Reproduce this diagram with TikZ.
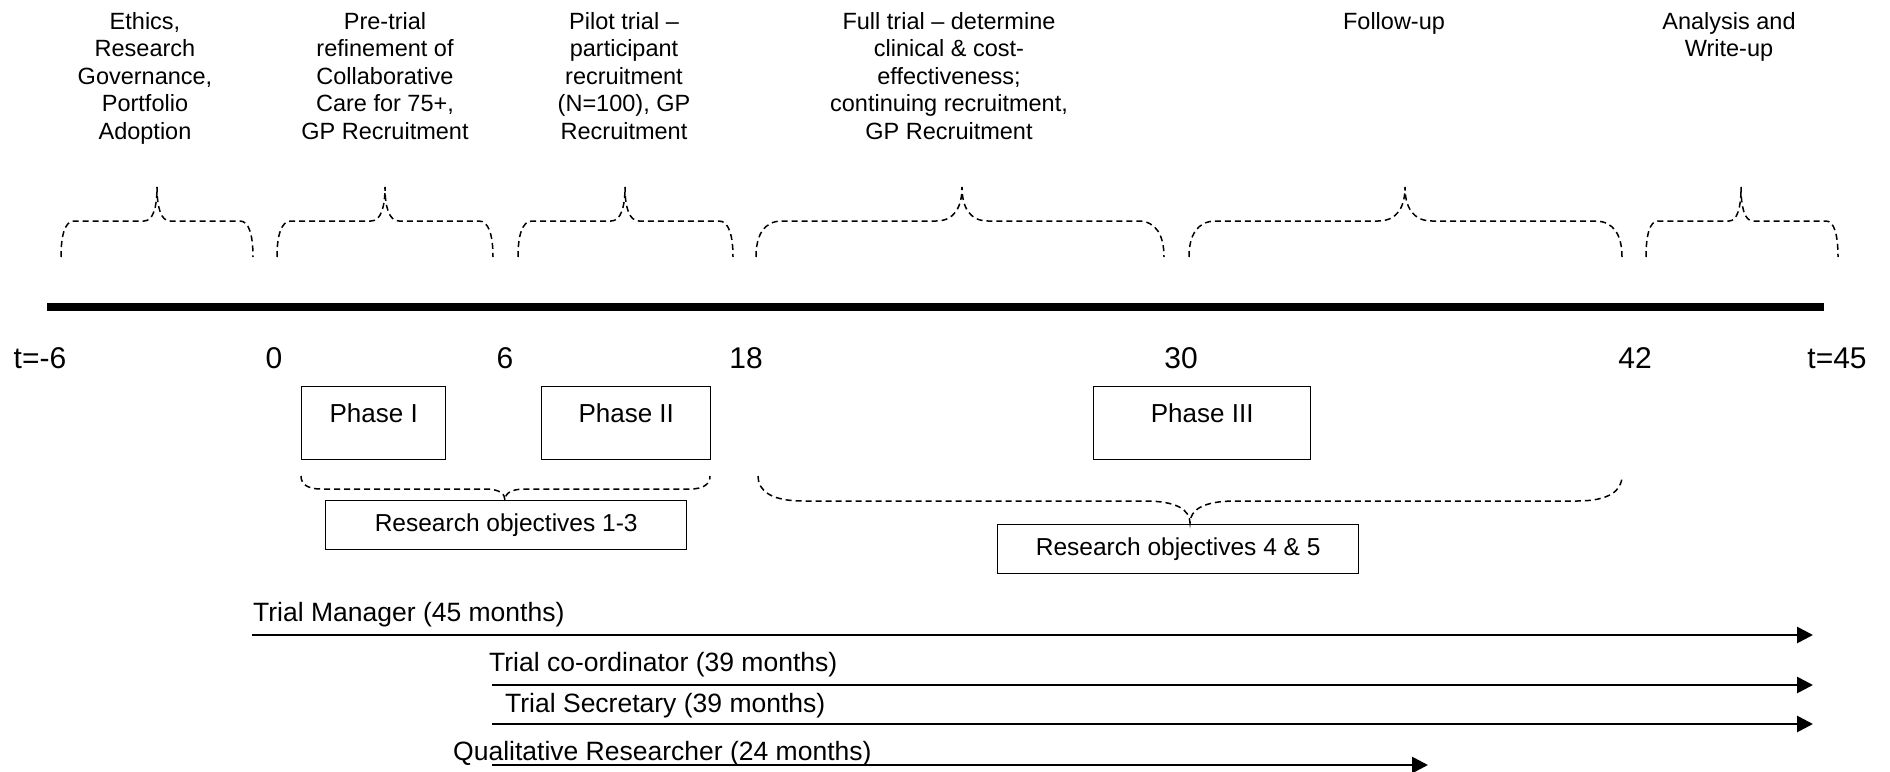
\documentclass[tikz,border=0pt]{standalone}
\usepackage{fontspec}
\setmainfont{Liberation Sans}
\usetikzlibrary{arrows.meta}

% dashed curly brace: left x, tip x, right x, end y, flat y, tip y, curve width
\newcommand{\timebrace}[7]{%
  \draw[bracedash] (#1,#4)
    .. controls (#1,{#5+0.4*(#4-#5)}) and ({#1+0.3*#7},#5) .. ({#1+#7},#5)
    -- ({#2-#7},#5)
    .. controls ({#2-0.3*#7},#5) and (#2,{#5+0.4*(#6-#5)}) .. (#2,#6)
    .. controls (#2,{#5+0.4*(#6-#5)}) and ({#2+0.3*#7},#5) .. ({#2+#7},#5)
    -- ({#3-#7},#5)
    .. controls ({#3-0.3*#7},#5) and (#3,{#5+0.4*(#4-#5)}) .. (#3,#4);}

\begin{document}
\begin{tikzpicture}[x=1pt,y=-1pt,
    bracedash/.style={line width=1.5pt,dash pattern=on 6pt off 4pt},
    toplabel/.style={anchor=north,inner sep=0pt,align=center,
      font=\fontsize{23.5}{27.5}\selectfont},
    ticklabel/.style={anchor=base,inner sep=0pt,font=\fontsize{30}{36}\selectfont},
    phasebox/.style={draw,line width=1.4pt,anchor=north west,inner sep=0pt,
      minimum height=73pt,text height=18pt,text depth=19pt,
      font=\fontsize{26}{30}\selectfont},
    objbox/.style={draw,line width=1.4pt,anchor=north west,inner sep=0pt,
      minimum width=361pt,minimum height=49pt,text height=17pt,text depth=5pt,
      font=\fontsize{24.5}{29}\selectfont},
    stafflabel/.style={anchor=base west,inner sep=0pt,
      font=\fontsize{26.5}{31}\selectfont},
    staffarrow/.style={line width=2.7pt,-{Triangle[length=16pt,width=16pt]}}]
  \useasboundingbox (0,0) rectangle (1890,771);

  % activities above the time line
  \node[toplabel] (ethics) at (145,12)
    {Ethics,\\Research\\Governance,\\Portfolio\\Adoption};
  \node[toplabel] (pretrial) at (385,12)
    {Pre-trial\\refinement of\\Collaborative\\Care for 75+,\\GP Recruitment};
  \node[toplabel] (pilot) at (624,12)
    {Pilot trial –\\participant\\recruitment\\(N=100), GP\\Recruitment};
  \node[toplabel] (fulltrial) at (949,12)
    {Full trial – determine\\clinical \& cost-\\effectiveness;\\continuing recruitment,\\GP Recruitment};
  \node[toplabel] (followup) at (1394,12) {Follow-up};
  \node[toplabel] (analysis) at (1729,12) {Analysis and\\Write-up};

  \timebrace{61}{157}{253}{257}{221}{187}{13}
  \timebrace{277}{385}{493}{257}{221}{187}{14}
  \timebrace{518}{625}{733}{257}{221}{187}{14}
  \timebrace{756}{962}{1164}{257}{221}{187}{26}
  \timebrace{1189}{1405}{1622}{257}{221}{187}{27}
  \timebrace{1646}{1741}{1838}{257}{221}{187}{12}

  % time line
  \draw[line width=8pt] (47,307) -- (1824,307);
  \node[ticklabel] (tm6) at (40,368) {t=-6};
  \node[ticklabel] (t0) at (274,368) {0};
  \node[ticklabel] (t6) at (505,368) {6};
  \node[ticklabel] (t18) at (746,368) {18};
  \node[ticklabel] (t30) at (1181,368) {30};
  \node[ticklabel] (t42) at (1635,368) {42};
  \node[ticklabel] (t45) at (1837,368) {t=45};

  % phases
  \node[phasebox,minimum width=144pt] (phaseI) at (301,386) {Phase I};
  \node[phasebox,minimum width=169pt] (phaseII) at (541,386) {Phase II};
  \node[phasebox,minimum width=217pt] (phaseIII) at (1093,386) {Phase III};

  \timebrace{301}{505}{710}{476}{489}{500}{20}
  \timebrace{758}{1190}{1622}{476}{501}{523}{45}
  \node[objbox] (objA) at (325,500) {Research objectives 1-3};
  \node[objbox] (objB) at (997,524) {Research objectives 4 \& 5};

  % staff
  \coordinate (mgrS) at (252,635);
  \coordinate (mgrE) at (1813,635);
  \coordinate (coordS) at (492,685);
  \coordinate (coordE) at (1813,685);
  \coordinate (secS) at (492,724);
  \coordinate (secE) at (1813,724);
  \coordinate (qualS) at (492,765);
  \coordinate (qualE) at (1428,765);
  \node[stafflabel] (mgr) at (253,621) {Trial Manager (45 months)};
  \node[stafflabel] (coord) at (489,671) {Trial co-ordinator (39 months)};
  \node[stafflabel] (sec) at (505,712) {Trial Secretary (39 months)};
  \node[stafflabel] (qual) at (453,760) {Qualitative Researcher (24 months)};
  \draw[staffarrow] (mgrS) -- (mgrE);
  \draw[staffarrow] (coordS) -- (coordE);
  \draw[staffarrow] (secS) -- (secE);
  \draw[staffarrow] (qualS) -- (qualE);
\end{tikzpicture}
\end{document}
